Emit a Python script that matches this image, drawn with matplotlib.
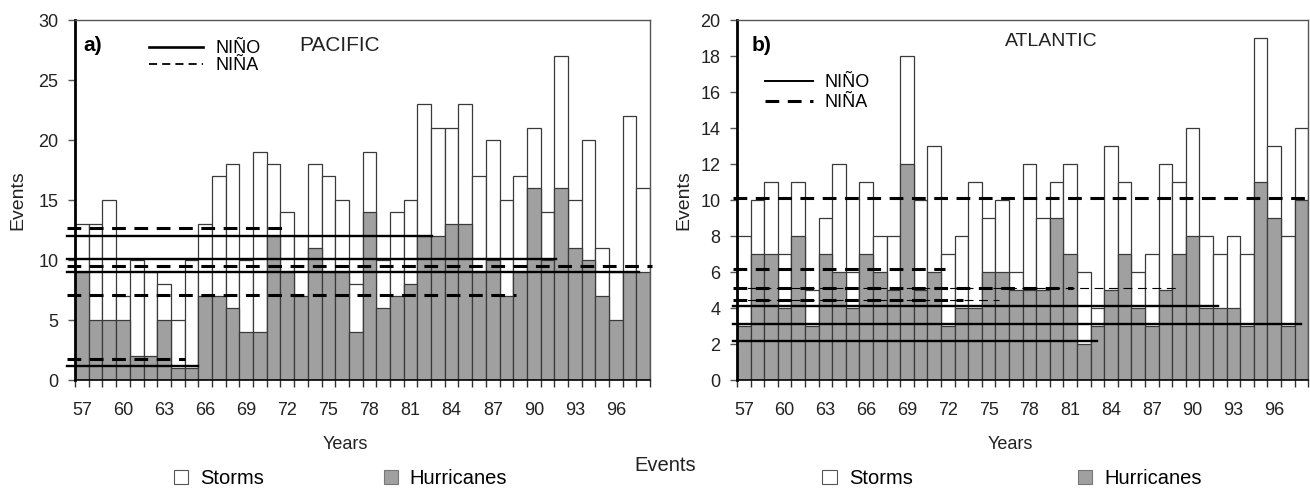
import matplotlib
matplotlib.use('Agg')
import matplotlib.pyplot as plt
from matplotlib.patches import Patch
from matplotlib.lines import Line2D
import numpy as np

# years 1957..1998, shown as two digits
years = np.arange(57, 99)
year_labels = [str(y) for y in years[::3]]

# Pacific (panel a)
pac_storms = [13, 13, 15, 7, 10, 9, 8, 5, 10, 13, 17, 18, 10, 19, 18, 14, 12, 18, 17, 15, 8,
              19, 10, 14, 15, 23, 21, 21, 23, 17, 20, 15, 17, 21, 14, 27, 15, 20, 11, 9, 22, 16]
pac_hurr = [9, 5, 5, 5, 2, 2, 5, 1, 1, 7, 7, 6, 4, 4, 12, 9, 7, 11, 9, 9, 4,
            14, 6, 7, 8, 12, 12, 13, 13, 9, 10, 7, 9, 16, 10, 16, 11, 10, 7, 5, 9, 9]
# mean levels (value, last year covered)
pac_nino = [12.05, 10.1, 9.05, 1.2]
pac_nino_end = [82.6, 91.6, 97.7, 65.5]
pac_nina = [12.7, 9.55, 7.1, 1.8]
pac_nina_end = [71.6, 98.6, 88.7, 64.5]

# Atlantic (panel b)
atl_storms = [8, 10, 11, 7, 11, 5, 9, 12, 6, 11, 8, 8, 18, 10, 13, 7, 8, 11, 9, 10, 6,
              12, 9, 11, 12, 6, 4, 13, 11, 6, 7, 12, 11, 14, 8, 7, 8, 7, 19, 13, 8, 14]
atl_hurr = [3, 7, 7, 4, 8, 3, 7, 6, 4, 7, 6, 5, 12, 5, 6, 3, 4, 4, 6, 6, 5,
            5, 5, 9, 7, 2, 3, 5, 7, 4, 3, 5, 7, 8, 4, 4, 4, 3, 11, 9, 3, 10]
atl_nino = [4.1, 3.1, 2.15]
atl_nino_end = [91.9, 98.0, 83.0]
atl_nina = [10.1, 6.15, 5.1, 4.45]
atl_nina_end = [98.6, 71.8, 81.2, 73.1]
atl_nina_thin = [5.1, 4.45]
atl_nina_thin_end = [88.9, 75.8]

GRAY = '#a0a0a0'
EDGE = '#3a3a3a'
SANS = ['Liberation Sans', 'DejaVu Sans']

plt.rcParams['xtick.major.pad'] = 16
plt.rcParams['ytick.major.pad'] = 7

fig = plt.figure(figsize=(13.1, 4.93), dpi=100)
ax1 = fig.add_axes([0.0573, 0.229, 0.439, 0.730])
ax2 = fig.add_axes([0.5626, 0.229, 0.436, 0.730])


def panel(ax, storms, hurr, nino, nino_end, nina, nina_end, start, ymax, ystep):
    ax.bar(years, storms, width=1.0, color='white', edgecolor=EDGE, linewidth=0.9, zorder=2)
    ax.bar(years, hurr, width=1.0, color=GRAY, edgecolor=EDGE, linewidth=0.9, zorder=2)
    for v, e in zip(nino, nino_end):
        ax.plot([start, e], [v, v], color='black', lw=1.7, clip_on=False, zorder=4)
    for v, e in zip(nina, nina_end):
        ax.plot([start, e], [v, v], color='black', lw=2.2, ls=(0, (4.5, 2.8)),
                clip_on=False, zorder=4)
    ax.set_xlim(56.5, 98.5)
    ax.set_ylim(0, ymax)
    ax.set_yticks(np.arange(0, ymax + 1, ystep))
    ax.set_xticks(years[::3])
    ax.set_xticklabels(year_labels)
    ax.set_xticks(np.arange(56.5, 99, 1), minor=True)
    ax.tick_params(axis='x', which='major', length=0)
    ax.tick_params(axis='x', which='minor', length=5, width=1, color='#333')
    ax.tick_params(axis='y', length=5, width=1, color='#555')
    for lab in ax.get_xticklabels() + ax.get_yticklabels():
        lab.set_family(SANS)
        lab.set_fontsize(13)
        lab.set_color('#222')
    ax.spines['left'].set_linewidth(2)
    ax.spines['bottom'].set_linewidth(1.2)
    for s in ['top', 'right']:
        ax.spines[s].set_linewidth(1)
        ax.spines[s].set_color('#555')
    ax.set_xlabel('Years', family=SANS, fontsize=13, color='#222')
    ax.set_ylabel('Events', family=SANS, fontsize=14, color='#222')


panel(ax1, pac_storms, pac_hurr, pac_nino, pac_nino_end, pac_nina, pac_nina_end, 55.9, 30, 5)
panel(ax2, atl_storms, atl_hurr, atl_nino, atl_nino_end, atl_nina, atl_nina_end, 56.2, 20, 2)
for v, e in zip(atl_nina_thin, atl_nina_thin_end):
    ax2.plot([56.2, e], [v, v], color='black', lw=0.8, ls=(0, (8, 5)), zorder=3)

ax1.xaxis.set_label_coords(0.47, -0.155)
ax2.xaxis.set_label_coords(0.478, -0.155)
ax1.yaxis.set_label_coords(-0.085, 0.5)
ax2.yaxis.set_label_coords(-0.079, 0.5)

# panel tags and basin names
ax1.text(0.015, 0.93, 'a)', transform=ax1.transAxes, fontsize=15, fontweight='bold',
         family=SANS, va='center')
ax1.text(0.39, 0.93, 'PACIFIC', transform=ax1.transAxes, fontsize=15, family=SANS,
         va='center', color='#222')
ax2.text(0.026, 0.93, 'b)', transform=ax2.transAxes, fontsize=15, fontweight='bold',
         family=SANS, va='center')
ax2.text(0.47, 0.94, 'ATLANTIC', transform=ax2.transAxes, fontsize=14, family=SANS,
         va='center', color='#222')

# El Nino / La Nina keys
enso_handles = [Line2D([], [], color='black', lw=1.9),
                Line2D([], [], color='black', lw=1.3, ls=(0, (4.5, 2.8)))]
ax1.legend(enso_handles, ['NIÑO', 'NIÑA'], loc='upper left',
           bbox_to_anchor=(0.1, 0.99), frameon=False, handlelength=3.0,
           handletextpad=0.7, labelspacing=0.0, prop={'family': SANS, 'size': 13})
enso_handles2 = [Line2D([], [], color='black', lw=1.4),
                 Line2D([], [], color='black', lw=2.2, ls=(0, (4.5, 2.8)))]
ax2.legend(enso_handles2, ['NIÑO', 'NIÑA'], loc='upper left',
           bbox_to_anchor=(0.02, 0.895), frameon=False, handlelength=2.7,
           handletextpad=0.6, labelspacing=0.15, prop={'family': SANS, 'size': 13})

# storms / hurricanes keys under each panel, one entry each
storm_key = Patch(facecolor='white', edgecolor='#555', lw=0.8)
hurr_key = Patch(facecolor=GRAY, edgecolor='#777', lw=0.8)
key_x = [(0.119, 0.279), (0.614, 0.809)]
for xs, xh in key_x:
    for h, lab, x in [(storm_key, 'Storms', xs), (hurr_key, 'Hurricanes', xh)]:
        fig.legend([h], [lab], loc='center left', bbox_to_anchor=(x, 0.03),
                   frameon=False, handlelength=0.7, handleheight=0.7,
                   handletextpad=0.6, prop={'family': SANS, 'size': 14.5})

fig.text(0.508, 0.055, 'Events', ha='center', va='center', family=SANS, fontsize=14.5,
         color='#222')

fig.savefig('out.png', dpi=100)
